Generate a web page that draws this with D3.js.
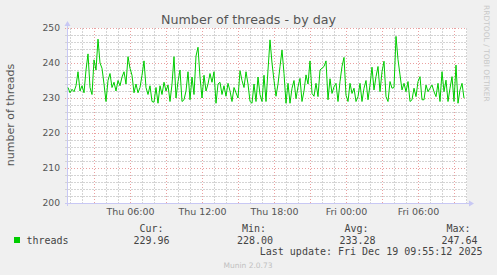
<!DOCTYPE html>
<html><head><meta charset="utf-8">
<script src="https://cdn.jsdelivr.net/npm/d3@7"></script>
<style>
html,body{margin:0;padding:0;background:#f0f0f0;}
svg{display:block;}
</style></head>
<body>
<svg id="chart" width="497" height="275"></svg>
<script>
// ---- data ----
const title = "Number of threads - by day";
const yLabel = "number of threads";
const seriesName = "threads";
const seriesStart = new Date(2025, 11, 18, 0, 50); // Thu 00:50
const stepMinutes = 10;
const threads = [
  233, 231.5, 232.5, 231.8, 233.5, 237.5,
  232, 233.5, 231.5, 238, 242.6, 233, 231, 240.9, 238, 246.8,
  240, 238.5, 234, 229, 235, 237, 233, 234.5, 232, 235,
  233.5, 236, 237.5, 234, 241.8, 238.5, 236.5, 231.5, 234, 231.5,
  233, 236.5, 240.6, 233, 231, 233.5, 229, 228.8, 233, 228.5,
  233.5, 231, 234.5, 232, 233.7, 229, 234, 241.8, 230, 234.7,
  238, 229, 229.5, 232, 237.5, 229.5, 236, 231, 242, 244.5,
  236, 230, 236.5, 232, 234, 237, 234.5, 237.5, 228.5, 234,
  234.5, 231, 233.5, 230.5, 234.2, 232, 229, 233, 231.5, 230,
  237.8, 235, 233, 237.5, 234, 229, 228.5, 234, 229, 236,
  231, 229, 236.5, 229, 238, 246.6, 240, 235, 230.5, 234,
  239, 243.7, 237, 228.5, 234.2, 228.5, 232.8, 235, 229.8, 233.2,
  235.6, 229, 232, 236.6, 234, 240.6, 231.3, 230.5, 234.2, 230.4,
  238, 238.5, 239, 240.6, 229.5, 235.5, 231.3, 233.2, 234.2, 229,
  234.7, 239, 241.6, 230.8, 229, 234.2, 231.3, 232.8, 229, 230.4,
  234.2, 229, 232.8, 235, 229.5, 233.7, 238.8, 232.3, 236.1, 239,
  231.8, 237.5, 240.5, 230.4, 229, 234.7, 232.8, 233, 247.6, 241,
  236.6, 232.3, 234.2, 231.8, 234.7, 229, 229.5, 232.8, 230.4, 234.7,
  236.1, 229.5, 229.5, 233.7, 231.8, 232.8, 233.7, 231.8, 230.4, 234.2,
  229, 237.5, 231.8, 235.1, 229, 232.8, 236.1, 229, 239.4, 228.5,
  232.3, 234.2, 229.96
];
const yTicks = [200, 210, 220, 230, 240, 250];
const legendHeaders = ["Cur:", "Min:", "Avg:", "Max:"];
const legendValues = ["229.96", "228.00", "233.28", "247.64"];
const lastUpdate = "Last update: Fri Dec 19 09:55:12 2025";
const footer = "Munin 2.0.73";
const watermark = "RRDTOOL / TOBI OETIKER";

// ---- layout ----
const svg = d3.select("#chart");
const X0 = 67, X1 = 467, Y0 = 28, Y1 = 203;
const x = d3.scaleTime()
  .domain([new Date(2025, 11, 18, 0, 45), new Date(2025, 11, 19, 10, 5)])
  .range([X0, X1]);
const y = d3.scaleLinear().domain([200, 250]).range([Y1, Y0]);

const data = threads.map((v, i) => ({t: new Date(seriesStart.getTime() + i * stepMinutes * 60000), v}));

svg.append("rect").attr("width", 497).attr("height", 275).attr("fill", "#f0f0f0");
svg.append("rect").attr("x", X0).attr("y", Y0).attr("width", X1 - X0).attr("height", Y1 - Y0).attr("fill", "#ffffff");

const grid = svg.append("g").attr("shape-rendering", "crispEdges");
// minor horizontal
d3.range(200, 251, 2).filter(v => v % 10 !== 0).forEach(v => {
  grid.append("line").attr("x1", X0 - 2).attr("x2", X1).attr("y1", Math.round(y(v)) + 0.5).attr("y2", Math.round(y(v)) + 0.5)
    .attr("stroke", "#d4d4d4").attr("stroke-dasharray", "2,1");
});
// minor vertical
const hours = d3.timeHour.every(1).range(x.domain()[0], x.domain()[1]);
hours.filter(h => h.getHours() % 3 !== 0).forEach(h => {
  grid.append("line").attr("x1", Math.round(x(h)) + 0.5).attr("x2", Math.round(x(h)) + 0.5).attr("y1", Y0).attr("y2", Y1 + 2)
    .attr("stroke", "#d4d4d4").attr("stroke-dasharray", "2,1");
});
// major horizontal
yTicks.forEach(v => {
  grid.append("line").attr("x1", X0 - 2).attr("x2", X1).attr("y1", Math.round(y(v)) + 0.5).attr("y2", Math.round(y(v)) + 0.5)
    .attr("stroke", "#eaa0a0").attr("stroke-dasharray", "1,2");
});
hours.filter(h => h.getHours() % 3 === 0).forEach(h => {
  grid.append("line").attr("x1", Math.round(x(h)) + 0.5).attr("x2", Math.round(x(h)) + 0.5).attr("y1", Y0).attr("y2", Y1 + 2)
    .attr("stroke", "#eaa0a0").attr("stroke-dasharray", "1,2");
});

// axes
const axisCol = "#c8c8f4";
grid.append("line").attr("x1", X0 - 2).attr("x2", X1 + 3).attr("y1", Y1 + 0.5).attr("y2", Y1 + 0.5).attr("stroke", axisCol);
grid.append("line").attr("x1", X0 + 0.5).attr("x2", X0 + 0.5).attr("y1", Y1 + 3).attr("y2", Y0 - 3).attr("stroke", axisCol);
svg.append("path").attr("d", `M${X0 - 2.5},${Y0 - 2} L${X0 + 3.5},${Y0 - 2} L${X0 + 0.5},${Y0 - 7} Z`).attr("fill", axisCol);
svg.append("path").attr("d", `M${X1 + 2},${Y1 - 2.5} L${X1 + 2},${Y1 + 3.5} L${X1 + 7},${Y1 + 0.5} Z`).attr("fill", axisCol);

// line
const line = d3.line().x(d => x(d.t)).y(d => y(d.v));
svg.append("path").datum(data).attr("d", line).attr("fill", "none").attr("stroke", "#00cc00").attr("stroke-width", 1);

// y tick labels
const txt = "#555555";
const yAxis = d3.axisLeft(y).tickValues(yTicks).tickSize(0).tickPadding(0).tickFormat(d3.format("d"));
const ya = svg.append("g").attr("transform", `translate(${X0 - 7},0)`).call(yAxis);
ya.select(".domain").remove();
ya.selectAll("text").attr("fill", txt).attr("font-family", "DejaVu Sans").attr("font-size", "9.2px");

// x tick labels
const xTicks = d3.timeHour.every(6).range(x.domain()[0], x.domain()[1]);
const xAxis = d3.axisBottom(x).tickValues(xTicks).tickSize(0).tickPadding(0).tickFormat(d3.timeFormat("%a %H:%M"));
const xa = svg.append("g").attr("transform", `translate(0,${Y1 + 5})`).call(xAxis);
xa.select(".domain").remove();
xa.selectAll("text").attr("fill", txt).attr("font-family", "DejaVu Sans").attr("font-size", "9.5px");

// title
svg.append("text").attr("x", 248.5).attr("y", 24).attr("text-anchor", "middle")
  .attr("font-family", "DejaVu Sans").attr("font-size", "12.7px").attr("fill", txt).text(title);
// y label
svg.append("text").attr("transform", "translate(14,115) rotate(-90)").attr("text-anchor", "middle")
  .attr("font-family", "DejaVu Sans").attr("font-size", "11px").attr("fill", txt).text(yLabel);
// watermark
svg.append("text").attr("transform", "translate(484,5) rotate(90)").attr("text-anchor", "start")
  .attr("font-family", "DejaVu Sans").attr("font-size", "7.5px").attr("fill", "#c8c8c8").text(watermark);

// legend
const mono = "DejaVu Sans Mono";
svg.append("rect").attr("x", 14).attr("y", 237).attr("width", 6).attr("height", 6).attr("fill", "#00cc00");
svg.append("text").attr("x", 26.5).attr("y", 243.5).attr("font-family", mono).attr("font-size", "10px").attr("fill", "#444").text(seriesName);
const hdrX = [163.5, 266, 368.5, 470.5];
const valX = [169.5, 273, 375.5, 477.5];
legendHeaders.forEach((h, i) => {
  svg.append("text").attr("x", hdrX[i]).attr("y", 231.5).attr("text-anchor", "end")
    .attr("font-family", mono).attr("font-size", "10px").attr("fill", "#444").text(h);
  svg.append("text").attr("x", valX[i]).attr("y", 243.5).attr("text-anchor", "end")
    .attr("font-family", mono).attr("font-size", "10px").attr("fill", "#444").text(legendValues[i]);
});
svg.append("text").attr("x", 482.5).attr("y", 255).attr("text-anchor", "end")
  .attr("font-family", mono).attr("font-size", "10px").attr("fill", "#444").text(lastUpdate);
svg.append("text").attr("x", 248).attr("y", 267.5).attr("text-anchor", "middle")
  .attr("font-family", "DejaVu Sans").attr("font-size", "7.5px").attr("fill", "#c0c0c0").text(footer);
</script>
</body></html>
